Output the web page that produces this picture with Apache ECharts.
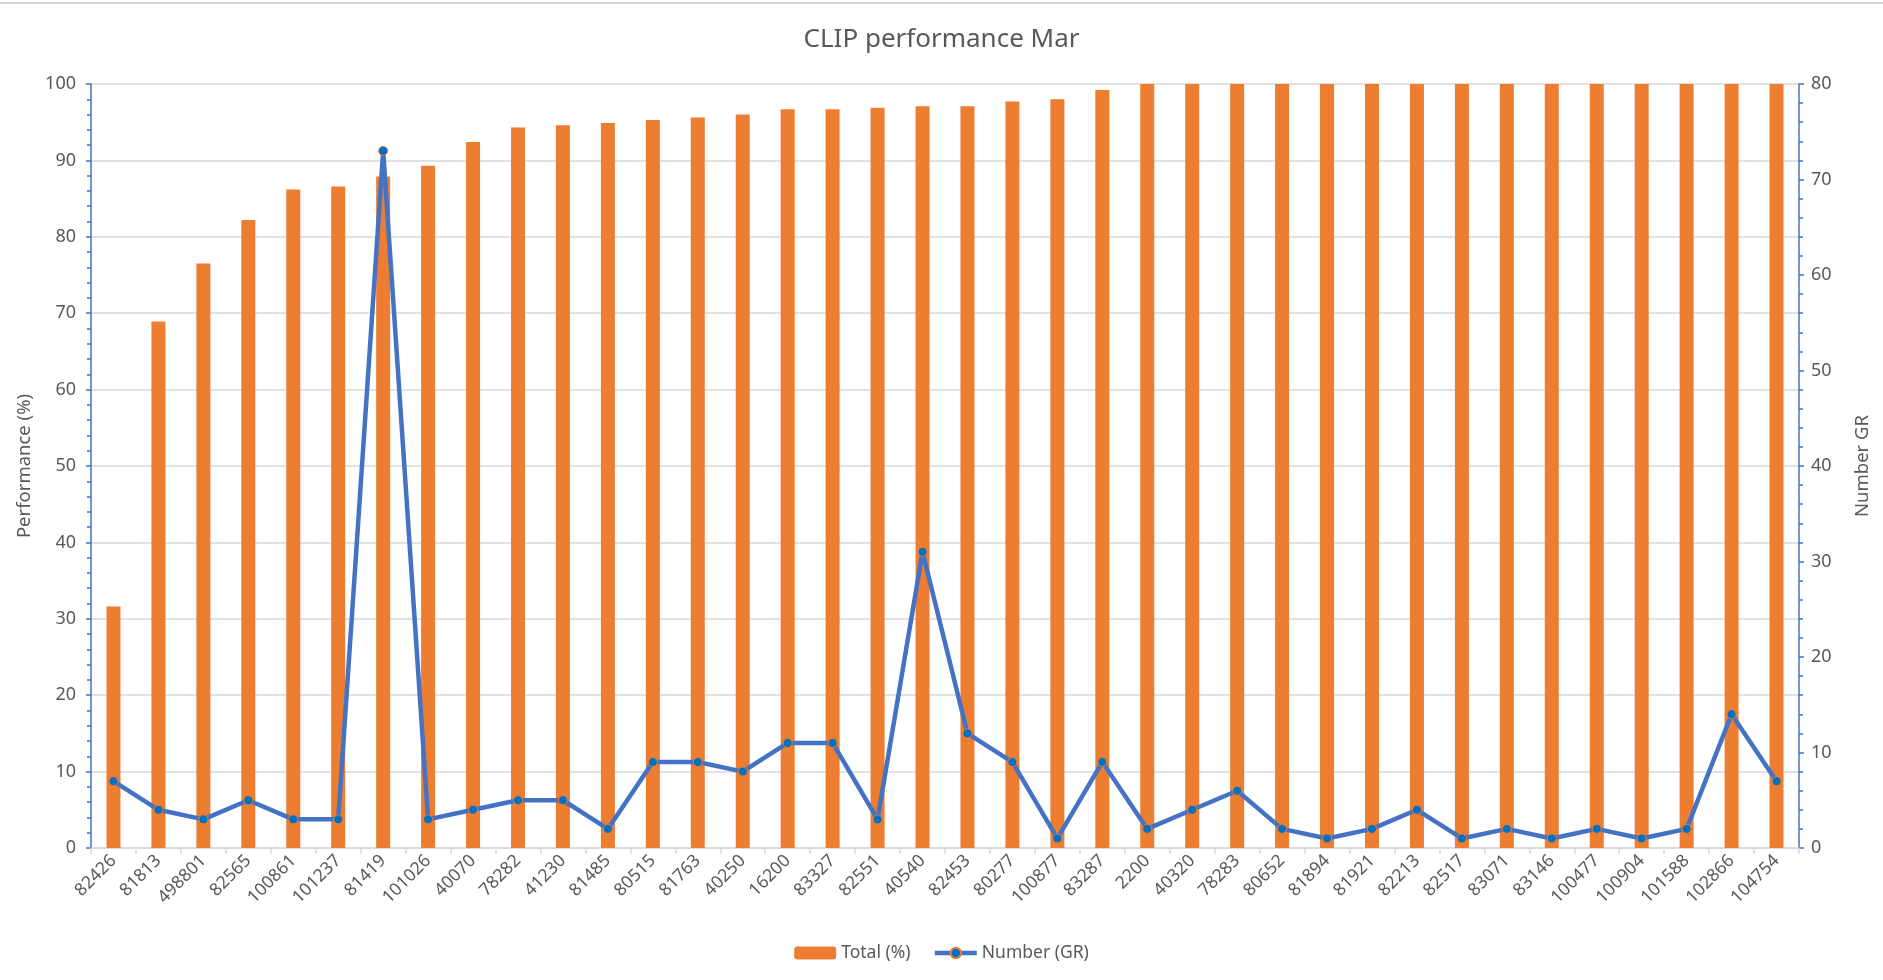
<!DOCTYPE html>
<html>
<head>
<meta charset="utf-8">
<script src="https://cdn.jsdelivr.net/npm/echarts@6/dist/echarts.min.js"></script>
<style>
html,body{margin:0;padding:0;background:#fff;}
#chart{width:1883px;height:980px;}
</style>
</head>
<body>
<div id="chart"></div>
<script>
const categories = ['82426','81813','498801','82565','100861','101237','81419','101026','40070','78282','41230','81485','80515','81763','40250','16200','83327','82551','40540','82453','80277','100877','83287','2200','40320','78283','80652','81894','81921','82213','82517','83071','83146','100477','100904','101588','102866','104754'];
const totalPct = [31.6,68.9,76.5,82.2,86.2,86.6,87.9,89.3,92.4,94.3,94.6,94.9,95.3,95.6,96.0,96.7,96.7,96.9,97.1,97.1,97.7,98.0,99.2,100,100,100,100,100,100,100,100,100,100,100,100,100,100,100];
const numberGR = [7,4,3,5,3,3,73,3,4,5,5,2,9,9,8,11,11,3,31,12,9,1,9,2,4,6,2,1,2,4,1,2,1,2,1,2,14,7];
const leftTicks = {min:0, max:100, interval:10};
const rightTicks = {min:0, max:80, interval:10};

const FONT = 'Noto Sans';
const TXT = '#595959';
const chart = echarts.init(document.getElementById('chart'));
chart.setOption({
  backgroundColor:'#fff',
  textStyle:{fontFamily:FONT},
  graphic:[{type:'line', shape:{x1:0,y1:3,x2:1883,y2:3}, style:{stroke:'#d9d9d9', lineWidth:2}}],
  title:{text:'CLIP performance Mar', left:'center', top:22, textStyle:{fontFamily:FONT, fontSize:26, fontWeight:'normal', color:TXT}},
  legend:{bottom:13, left:'center', itemWidth:42, itemHeight:13, itemGap:22,
    textStyle:{fontFamily:FONT, fontSize:17.5, color:TXT},
    data:[{name:'Total (%)'},{name:'Number (GR)', lineStyle:{width:4.5}}]},
  grid:{left:91, right:84, top:84, bottom:132, containLabel:false},
  xAxis:{type:'category', data:categories, boundaryGap:true,
    axisLine:{lineStyle:{color:'#d9d9d9', width:1.5}},
    axisTick:{show:true, alignWithLabel:false, length:6, lineStyle:{color:'#d9d9d9', width:1.5}},
    axisLabel:{rotate:45, interval:0, margin:10, fontFamily:FONT, fontSize:17.5, color:TXT}},
  yAxis:[{type:'value', min:leftTicks.min, max:leftTicks.max, interval:leftTicks.interval,
      name:'Performance (%)', nameLocation:'middle', nameGap:57, nameRotate:90,
      nameTextStyle:{fontFamily:FONT, fontSize:18.5, color:TXT},
      axisLine:{show:true, lineStyle:{color:'#4472C4', width:1.5}},
      axisTick:{show:true, length:5, lineStyle:{color:'#4472C4', width:1.5}},
      minorTick:{show:true, splitNumber:5, length:4, lineStyle:{color:'#4472C4', width:1.5}},
      axisLabel:{fontFamily:FONT, fontSize:18, color:TXT, margin:15},
      splitLine:{show:true, lineStyle:{color:'#d9d9d9', width:1.5}}},
    {type:'value', min:rightTicks.min, max:rightTicks.max, interval:rightTicks.interval, position:'right',
      name:'Number GR', nameLocation:'middle', nameGap:54, nameRotate:90,
      nameTextStyle:{fontFamily:FONT, fontSize:18.5, color:TXT},
      axisLine:{show:true, lineStyle:{color:'#4472C4', width:1.5}},
      axisTick:{show:true, length:5, lineStyle:{color:'#4472C4', width:1.5}},
      minorTick:{show:true, splitNumber:5, length:4, lineStyle:{color:'#4472C4', width:1.5}},
      axisLabel:{fontFamily:FONT, fontSize:18, color:TXT, margin:12},
      splitLine:{show:false}}],
  series:[
    {name:'Total (%)', type:'bar', data:totalPct, barWidth:14, yAxisIndex:0,
      itemStyle:{color:'#ED7D31'}},
    {name:'Number (GR)', type:'line', data:numberGR, yAxisIndex:1,
      symbol:'circle', symbolSize:9,
      lineStyle:{color:'#4472C4', width:4.5},
      itemStyle:{color:'#0070C0', borderColor:'#ED7D31', borderWidth:1}}
  ]
});
</script>
</body>
</html>
